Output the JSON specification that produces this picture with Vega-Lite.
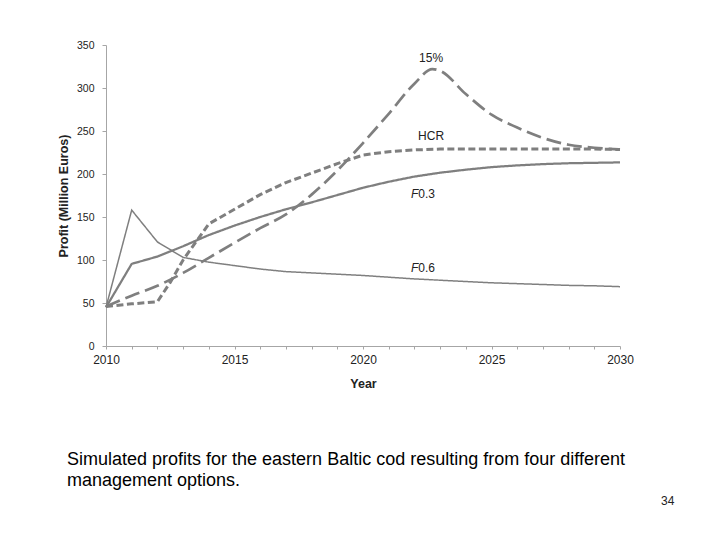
{
  "$schema": "https://vega.github.io/schema/vega-lite/v6.json",
  "width": 514,
  "height": 301,
  "autosize": {"type": "none"},
  "padding": {"left": 106, "top": 45, "right": 100, "bottom": 194},
  "background": "white",
  "title": {
    "text": ["Simulated profits for the eastern Baltic cod resulting from four different", "management options."],
    "orient": "bottom",
    "anchor": "start",
    "frame": "group",
    "dx": -39,
    "offset": -56,
    "font": "Liberation Sans",
    "fontSize": 18,
    "fontWeight": "normal",
    "color": "#000000",
    "lineHeight": 21
  },
  "datasets": {
    "profits": [
      {"year": 2010, "series": "F0.6", "profit": 45},
      {"year": 2011, "series": "F0.6", "profit": 158},
      {"year": 2012, "series": "F0.6", "profit": 121},
      {"year": 2013, "series": "F0.6", "profit": 103},
      {"year": 2014, "series": "F0.6", "profit": 97.5},
      {"year": 2015, "series": "F0.6", "profit": 93.5},
      {"year": 2016, "series": "F0.6", "profit": 89.5},
      {"year": 2017, "series": "F0.6", "profit": 86.5},
      {"year": 2018, "series": "F0.6", "profit": 85},
      {"year": 2019, "series": "F0.6", "profit": 83.5},
      {"year": 2020, "series": "F0.6", "profit": 82},
      {"year": 2021, "series": "F0.6", "profit": 80},
      {"year": 2022, "series": "F0.6", "profit": 78},
      {"year": 2023, "series": "F0.6", "profit": 76.5},
      {"year": 2024, "series": "F0.6", "profit": 75},
      {"year": 2025, "series": "F0.6", "profit": 73.5},
      {"year": 2026, "series": "F0.6", "profit": 72.5},
      {"year": 2027, "series": "F0.6", "profit": 71.5},
      {"year": 2028, "series": "F0.6", "profit": 70.5},
      {"year": 2029, "series": "F0.6", "profit": 70},
      {"year": 2030, "series": "F0.6", "profit": 69},
      {"year": 2010, "series": "F0.3", "profit": 45},
      {"year": 2011, "series": "F0.3", "profit": 95.5},
      {"year": 2012, "series": "F0.3", "profit": 104},
      {"year": 2013, "series": "F0.3", "profit": 116},
      {"year": 2014, "series": "F0.3", "profit": 129},
      {"year": 2015, "series": "F0.3", "profit": 140},
      {"year": 2016, "series": "F0.3", "profit": 150},
      {"year": 2017, "series": "F0.3", "profit": 159},
      {"year": 2018, "series": "F0.3", "profit": 167},
      {"year": 2019, "series": "F0.3", "profit": 175.5},
      {"year": 2020, "series": "F0.3", "profit": 184},
      {"year": 2021, "series": "F0.3", "profit": 191},
      {"year": 2022, "series": "F0.3", "profit": 197},
      {"year": 2023, "series": "F0.3", "profit": 201.5},
      {"year": 2024, "series": "F0.3", "profit": 205},
      {"year": 2025, "series": "F0.3", "profit": 208},
      {"year": 2026, "series": "F0.3", "profit": 210},
      {"year": 2027, "series": "F0.3", "profit": 211.5},
      {"year": 2028, "series": "F0.3", "profit": 212.5},
      {"year": 2029, "series": "F0.3", "profit": 213},
      {"year": 2030, "series": "F0.3", "profit": 213.5},
      {"year": 2010, "series": "HCR", "profit": 46},
      {"year": 2011, "series": "HCR", "profit": 49},
      {"year": 2012, "series": "HCR", "profit": 51.5},
      {"year": 2012.5, "series": "HCR", "profit": 74},
      {"year": 2013, "series": "HCR", "profit": 100},
      {"year": 2014, "series": "HCR", "profit": 142},
      {"year": 2015, "series": "HCR", "profit": 159},
      {"year": 2016, "series": "HCR", "profit": 176},
      {"year": 2017, "series": "HCR", "profit": 190},
      {"year": 2018, "series": "HCR", "profit": 201},
      {"year": 2019, "series": "HCR", "profit": 212},
      {"year": 2020, "series": "HCR", "profit": 222},
      {"year": 2021, "series": "HCR", "profit": 226},
      {"year": 2022, "series": "HCR", "profit": 228},
      {"year": 2023, "series": "HCR", "profit": 229},
      {"year": 2024, "series": "HCR", "profit": 229},
      {"year": 2025, "series": "HCR", "profit": 229},
      {"year": 2026, "series": "HCR", "profit": 229},
      {"year": 2027, "series": "HCR", "profit": 229},
      {"year": 2028, "series": "HCR", "profit": 229},
      {"year": 2029, "series": "HCR", "profit": 229},
      {"year": 2030, "series": "HCR", "profit": 228.5},
      {"year": 2010, "series": "15%", "profit": 46},
      {"year": 2011, "series": "15%", "profit": 58.5},
      {"year": 2012, "series": "15%", "profit": 70},
      {"year": 2013, "series": "15%", "profit": 85},
      {"year": 2014, "series": "15%", "profit": 102.5},
      {"year": 2015, "series": "15%", "profit": 120},
      {"year": 2016, "series": "15%", "profit": 137},
      {"year": 2017, "series": "15%", "profit": 153},
      {"year": 2018, "series": "15%", "profit": 176},
      {"year": 2019, "series": "15%", "profit": 204},
      {"year": 2020, "series": "15%", "profit": 236},
      {"year": 2021, "series": "15%", "profit": 270},
      {"year": 2022, "series": "15%", "profit": 305},
      {"year": 2022.7, "series": "15%", "profit": 322},
      {"year": 2023, "series": "15%", "profit": 320},
      {"year": 2024, "series": "15%", "profit": 293},
      {"year": 2025, "series": "15%", "profit": 269},
      {"year": 2026, "series": "15%", "profit": 254},
      {"year": 2027, "series": "15%", "profit": 242},
      {"year": 2028, "series": "15%", "profit": 234},
      {"year": 2029, "series": "15%", "profit": 230.5},
      {"year": 2030, "series": "15%", "profit": 228.5}
    ],
    "labels": [
      {"text": "15%", "year": 2022.65, "profit": 335},
      {"text": "HCR", "year": 2022.65, "profit": 244}
    ],
    "italicLabels": [
      {"text": "F", "year": 2022.15, "profit": 177},
      {"text": "F", "year": 2022.15, "profit": 91}
    ],
    "suffixLabels": [
      {"text": "0.3", "year": 2022.15, "profit": 177},
      {"text": "0.6", "year": 2022.15, "profit": 91}
    ],
    "page": [
      {"text": "34", "year": 2032.12, "profit": -180}
    ]
  },
  "encoding": {
    "x": {
      "field": "year",
      "type": "quantitative",
      "scale": {"domain": [2010, 2030], "nice": false, "zero": false},
      "axis": {
        "title": "Year",
        "values": [2010, 2011, 2012, 2013, 2014, 2015, 2016, 2017, 2018, 2019, 2020, 2021, 2022, 2023, 2024, 2025, 2026, 2027, 2028, 2029, 2030],
        "format": "d",
        "labelExpr": "datum.value % 5 == 0 ? datum.label : ''",
        "labelFlush": false,
        "labelFontSize": 12,
        "grid": false,
        "tickSize": 3,
        "labelPadding": 5,
        "titlePadding": 12
      }
    },
    "y": {
      "field": "profit",
      "type": "quantitative",
      "scale": {"domain": [0, 350], "nice": false},
      "axis": {
        "title": "Profit (Million Euros)",
        "values": [0, 50, 100, 150, 200, 250, 300, 350],
        "labelFontSize": 10.5,
        "grid": false,
        "tickSize": 4,
        "labelPadding": 8,
        "titlePadding": 6
      }
    }
  },
  "layer": [
    {
      "data": {"name": "profits"},
      "transform": [{"filter": "datum.series != '15%'"}],
      "mark": {"type": "line", "color": "#7f7f7f", "interpolate": "linear"},
      "encoding": {
        "detail": {"field": "series", "type": "nominal"},
        "strokeDash": {
          "field": "series",
          "type": "nominal",
          "scale": {"domain": ["F0.6", "F0.3", "HCR"], "range": [[1, 0], [1, 0], [7, 3.5]]},
          "legend": null
        },
        "strokeWidth": {
          "field": "series",
          "type": "nominal",
          "scale": {"domain": ["F0.6", "F0.3", "HCR"], "range": [1.5, 3, 3]},
          "legend": null
        }
      }
    },
    {
      "data": {"name": "profits"},
      "transform": [{"filter": "datum.series == '15%'"}],
      "mark": {"type": "line", "color": "#7f7f7f", "interpolate": "monotone", "strokeWidth": 2.7, "strokeDash": [15, 6]},
      "encoding": {}
    },
    {
      "data": {"name": "labels"},
      "mark": {"type": "text", "font": "Liberation Sans", "fontSize": 12, "color": "#222222", "align": "center", "baseline": "middle"},
      "encoding": {"text": {"field": "text"}}
    },
    {
      "data": {"name": "italicLabels"},
      "mark": {"type": "text", "font": "Liberation Sans", "fontSize": 12, "fontStyle": "italic", "color": "#222222", "align": "right", "baseline": "middle"},
      "encoding": {"text": {"field": "text"}}
    },
    {
      "data": {"name": "suffixLabels"},
      "mark": {"type": "text", "font": "Liberation Sans", "fontSize": 12, "color": "#222222", "align": "left", "baseline": "middle"},
      "encoding": {"text": {"field": "text"}}
    },
    {
      "data": {"name": "page"},
      "mark": {"type": "text", "font": "Liberation Sans", "fontSize": 12, "color": "#222222", "align": "right", "baseline": "middle"},
      "encoding": {"text": {"field": "text"}}
    }
  ],
  "config": {
    "view": {"stroke": null},
    "axis": {
      "domainColor": "#a6a6a6",
      "tickColor": "#a6a6a6",
      "labelFont": "Liberation Sans",
      "labelColor": "#222222",
      "titleFont": "Liberation Sans",
      "titleFontSize": 12.5,
      "titleFontWeight": "bold",
      "titleColor": "#222222"
    }
  }
}
